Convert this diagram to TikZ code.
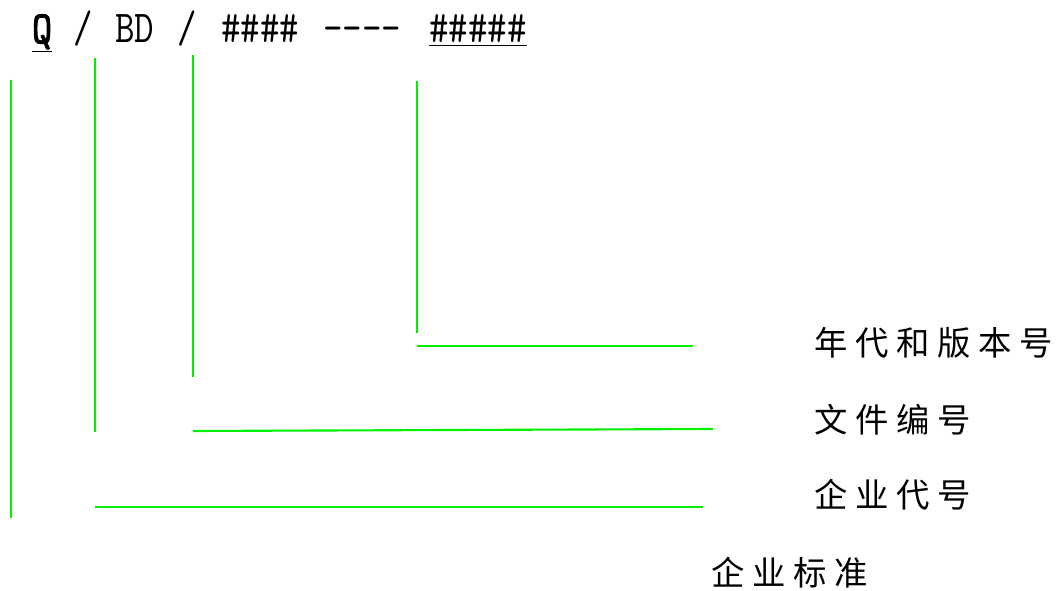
\documentclass[tikz,border=0pt]{standalone}
\usepackage{fontspec}
\usepackage{tikz}
\usetikzlibrary{positioning}
\newfontfamily\codefont[FakeStretch=0.83]{Latin Modern Mono}
\newfontfamily\codebold[FakeStretch=0.83,FakeBold=2.5]{Latin Modern Mono}
\newfontfamily\cjk[LetterSpace=23]{Noto Sans CJK SC}
\definecolor{verde}{HTML}{00F000}

\tikzset{
  codigo/.style={anchor=base west,inner sep=0pt,font=\codefont\fontsize{26}{26}\selectfont},
  etiqueta/.style={anchor=west,inner sep=0pt,font=\cjk\fontsize{19}{19}\selectfont},
  linea/.style={verde,line width=1.2pt}
}

\begin{document}
\begin{tikzpicture}[x=0.02cm,y=-0.02cm]
    \useasboundingbox (0,0) rectangle (1059,591);
    % ---- Codigo ----
    \node[codigo] (q)    at (32,43)  {\underline{\codebold Q}};
    \node[codigo] (bar1) at (73,43)  {/};
    \node[codigo] (bd)   at (115,43) {BD};
    \node[codigo] (bar2) at (177,43) {/};
    \node[codigo] (num)  at (221,43) {\#\#\#\#};
    \node[codigo] (guion) at (323,43) {----};
    \node[codigo] (ver)  at (429,43) {\underline{\#\#\#\#\#}};

    % ---- Lineas verticales ----
    \draw[linea] (11,80) -- (11,518);
    \draw[linea] (95,58) -- (95,432);
    \draw[linea] (193,55) -- (193,377);
    \draw[linea] (417,81) -- (417,333);

    % ---- Lineas horizontales ----
    \draw[linea] (417,346) -- (693,346);
    \draw[linea] (193,431) -- (713,429);
    \draw[linea] (95,507) -- (703,507);

    % ---- Etiquetas ----
    \node[etiqueta] (ano)  at (814,343) {年代和版本号};
    \node[etiqueta] (doc)  at (814,420) {文件编号};
    \node[etiqueta] (emp)  at (814,495) {企业代号};
    \node[etiqueta] (std)  at (711,573) {企业标准};
\end{tikzpicture}
\end{document}
